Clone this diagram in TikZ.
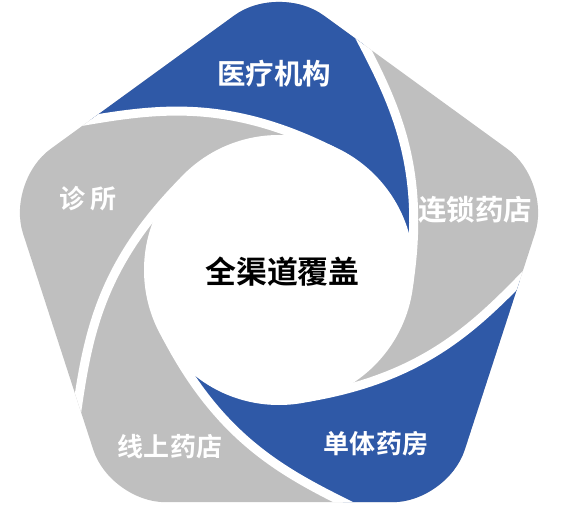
\documentclass[tikz,border=0pt]{standalone}
\usepackage{fontspec}
\setmainfont{Noto Sans CJK SC}[BoldFont={Noto Sans CJK SC Bold}]
\definecolor{bladeblue}{RGB}{47,89,167}
\definecolor{bladegray}{RGB}{191,191,191}
\tikzset{
  blueblade/.style={fill=bladeblue},
  gap/.style={draw=white, line width=0.18cm},
  lblbig/.style={text=white, font=\bfseries\fontsize{16.2}{16.2}\selectfont},
  lblsmall/.style={text=white, font=\bfseries\fontsize{14.8}{14.8}\selectfont},
}
\begin{document}
\begin{tikzpicture}
\useasboundingbox (0,0) rectangle (11.32,10.1);
\begin{scope}[shift={(5.58,4.70)}]
\clip[rounded corners=1.1cm] (90:5.74) -- (18:5.74) -- (-54:5.74) -- (-126:5.74) -- (162:5.74) -- cycle;
\fill[bladegray] (-6,-6) rectangle (6,6);
% blue blades
\fill[blueblade] (147.3:5.33) .. controls (131.3:4.21) and (109.8:3.78) .. (66:2.61) -- (-6:2.61) .. controls (37.8:3.78) and (59.3:4.21) .. (75.3:5.33) -- (75.3:8) -- (147.3:8) -- cycle;
\fill[blueblade] (3.3:5.33) .. controls (-12.7:4.21) and (-34.2:3.78) .. (-78:2.61) -- (-150:2.61) .. controls (-106.2:3.78) and (-84.7:4.21) .. (-68.7:5.33) -- (-68.7:8) -- (3.3:8) -- cycle;
% white gaps between the blades
\draw[gap] (147.3:5.33) .. controls (131.3:4.21) and (109.8:3.78) .. (66:2.61);
\draw[gap] (75.3:5.33) .. controls (59.3:4.21) and (37.8:3.78) .. (-6:2.61);
\draw[gap] (3.3:5.33) .. controls (-12.7:4.21) and (-34.2:3.78) .. (-78:2.61);
\draw[gap] (-68.7:5.33) .. controls (-84.7:4.21) and (-106.2:3.78) .. (-150:2.61);
\draw[gap] (-140.7:5.33) .. controls (-156.7:4.21) and (-178.2:3.78) .. (138:2.61);
\fill[white] (0,0) circle (2.7);
\end{scope}
\node[lblbig] (yiliao) at (5.48,8.63) {医疗机构};
\node[lblbig] (liansuo) at (9.50,5.90) {连锁药店};
\node[lblsmall] (danti) at (7.52,1.22) {单体药房};
\node[lblsmall] (xianshang) at (3.40,1.16) {线上药店};
\node[lblsmall] (zhensuo) at (1.76,6.12) {诊 所};
\node[font=\bfseries\fontsize{17.6}{17.6}\selectfont] (quan) at (5.65,4.66) {全渠道覆盖};
\end{tikzpicture}
\end{document}
